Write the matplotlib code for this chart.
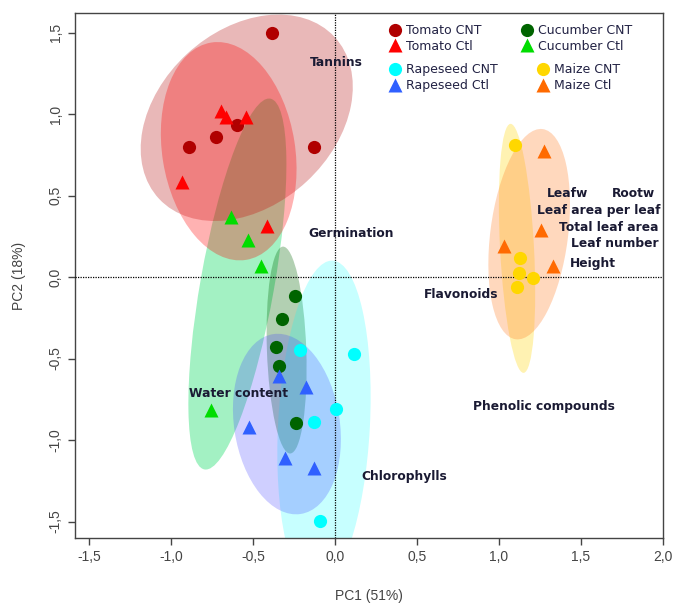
import matplotlib
matplotlib.use("Agg")
import matplotlib.pyplot as plt
from matplotlib.patches import Ellipse
from matplotlib.lines import Line2D

# group scores (PC1, PC2)
tomato_cnt_x = [-0.384, -0.890, -0.726, -0.598, -0.128]
tomato_cnt_y = [1.497, 0.800, 0.860, 0.930, 0.800]
tomato_ctl_x = [-0.695, -0.667, -0.540, -0.930, -0.417]
tomato_ctl_y = [1.020, 0.980, 0.980, 0.585, 0.313]
cucumber_cnt_x = [-0.244, -0.321, -0.362, -0.343, -0.240]
cucumber_cnt_y = [-0.117, -0.258, -0.431, -0.546, -0.898]
cucumber_ctl_x = [-0.634, -0.532, -0.453, -0.758]
cucumber_ctl_y = [0.366, 0.227, 0.069, -0.816]
rapeseed_cnt_x = [-0.213, 0.116, 0.008, -0.126, -0.093]
rapeseed_cnt_y = [-0.450, -0.474, -0.808, -0.892, -1.495]
rapeseed_ctl_x = [-0.341, -0.179, -0.524, -0.303, -0.126]
rapeseed_ctl_y = [-0.610, -0.673, -0.918, -1.112, -1.174]
maize_cnt_x = [1.096, 1.128, 1.124, 1.209, 1.108]
maize_cnt_y = [0.810, 0.118, 0.022, -0.008, -0.063]
maize_ctl_x = [1.276, 1.256, 1.030, 1.331]
maize_ctl_y = [0.775, 0.290, 0.190, 0.067]

# confidence ellipses: centre x, centre y, width, height, angle (deg)
ell_cucumber_ctl = [-0.595, -0.043, 2.31, 0.45, 80]
ell_cucumber_cnt = [-0.295, -0.448, 1.27, 0.24, 92]
ell_rapeseed_cnt = [-0.067, -0.908, 2.02, 0.56, 87]
ell_rapeseed_ctl = [-0.293, -0.902, 1.116, 0.644, 98.6]
ell_maize_cnt = [1.110, 0.176, 1.53, 0.207, 93]
ell_maize_ctl = [1.184, 0.263, 1.30, 0.474, 82.8]
ell_tomato_cnt = [-0.538, 0.977, 1.46, 1.07, 43]
ell_tomato_ctl = [-0.648, 0.772, 1.35, 0.81, 99]

# variable labels
var_names = ["Tannins", "Germination", "Leafw", "Rootw", "Leaf area per leaf",
             "Total leaf area", "Leaf number", "Height", "Flavonoids",
             "Water content", "Phenolic compounds", "Chlorophylls"]
var_x = [-0.152, -0.160, 1.291, 1.691, 1.234, 1.366, 1.437, 1.433, 0.545,
         -0.890, 0.844, 0.162]
var_y = [1.315, 0.270, 0.514, 0.514, 0.411, 0.303, 0.207, 0.084, -0.106,
         -0.714, -0.795, -1.225]

x_ticks = [-1.5, -1.0, -0.5, 0.0, 0.5, 1.0, 1.5, 2.0]
y_ticks = [-1.5, -1.0, -0.5, 0.0, 0.5, 1.0, 1.5]

fig = plt.figure(figsize=(6.74, 6.04), dpi=100)
ax = fig.add_axes([0.1113, 0.1093, 0.8724, 0.8692])

# ellipses first (green under red, like the original)
ellipses = [
    (ell_cucumber_ctl, "#33E07A", 0.45),
    (ell_cucumber_cnt, "#006400", 0.30),
    (ell_rapeseed_cnt, "#00FFFF", 0.22),
    (ell_rapeseed_ctl, "#4040FF", 0.25),
    (ell_maize_cnt, "#FFD700", 0.30),
    (ell_maize_ctl, "#FF7F27", 0.30),
    (ell_tomato_cnt, "#B00000", 0.28),
    (ell_tomato_ctl, "#FF0000", 0.30),
]
for (cx, cy, w, h, ang), col, a in ellipses:
    ax.add_patch(Ellipse((cx, cy), w, h, angle=ang, facecolor=col,
                         edgecolor="none", alpha=a, zorder=2))

ax.axhline(0, color="black", lw=0.9, ls=(0, (1, 1)), zorder=3)
ax.axvline(0, color="black", lw=0.9, ls=(0, (1, 1)), zorder=3)

groups = [
    ("Tomato CNT", tomato_cnt_x, tomato_cnt_y, "o", "#B00000"),
    ("Tomato Ctl", tomato_ctl_x, tomato_ctl_y, "^", "#FF0000"),
    ("Cucumber CNT", cucumber_cnt_x, cucumber_cnt_y, "o", "#006400"),
    ("Cucumber Ctl", cucumber_ctl_x, cucumber_ctl_y, "^", "#00DD00"),
    ("Rapeseed CNT", rapeseed_cnt_x, rapeseed_cnt_y, "o", "#00FFFF"),
    ("Rapeseed Ctl", rapeseed_ctl_x, rapeseed_ctl_y, "^", "#3060FF"),
    ("Maize CNT", maize_cnt_x, maize_cnt_y, "o", "#FFD700"),
    ("Maize Ctl", maize_ctl_x, maize_ctl_y, "^", "#FF6A00"),
]
handles = {}
for name, xs, ys, m, col in groups:
    ms = 9.5 if m == "o" else 10
    ax.plot(xs, ys, ls="none", marker=m, ms=ms, color=col, mec="none", zorder=4)
    handles[name] = Line2D([], [], ls="none", marker=m, ms=ms, color=col, mec="none")

for name, x, y in zip(var_names, var_x, var_y):
    ax.text(x, y, name, ha="left", va="center", fontsize=8.8, fontweight="bold",
            color="#1a1a33", zorder=5)

leg_kw = dict(ncol=2, frameon=False, loc="upper left", fontsize=9,
              handlelength=1.0, handletextpad=0.4, columnspacing=3.1,
              labelspacing=0.2, borderpad=0, borderaxespad=0)
order1 = ["Tomato CNT", "Tomato Ctl", "Cucumber CNT", "Cucumber Ctl"]
order2 = ["Rapeseed CNT", "Rapeseed Ctl", "Maize CNT", "Maize Ctl"]
leg1 = ax.legend([handles[n] for n in order1], order1,
                 bbox_to_anchor=(0.5336, 0.979), labelcolor="#222244", **leg_kw)
ax.add_artist(leg1)
ax.legend([handles[n] for n in order2], order2,
          bbox_to_anchor=(0.5336, 0.904), labelcolor="#222244", **leg_kw)

ax.set_xlim(-1.585, 2.0)
ax.set_ylim(-1.601, 1.62)
ax.set_xticks(x_ticks)
ax.set_yticks(y_ticks)
ax.set_xticklabels([f"{v:.1f}".replace(".", ",") for v in x_ticks],
                   fontfamily="Liberation Sans", fontsize=10, color="#444444")
ax.set_yticklabels([f"{v:.1f}".replace(".", ",") for v in y_ticks],
                   fontfamily="Liberation Sans", fontsize=10, color="#444444",
                   rotation=90, va="center")
ax.tick_params(direction="out", length=5, width=1, color="#444444", pad=4)
for s in ax.spines.values():
    s.set_color("#444444")
    s.set_linewidth(1)

ax.set_xlabel("PC1 (51%)", fontfamily="Liberation Sans", fontsize=10,
              color="#444444", labelpad=18)
ax.set_ylabel("PC2 (18%)", fontfamily="Liberation Sans", fontsize=10,
              color="#444444", labelpad=16)

fig.savefig("out.png", dpi=100)
